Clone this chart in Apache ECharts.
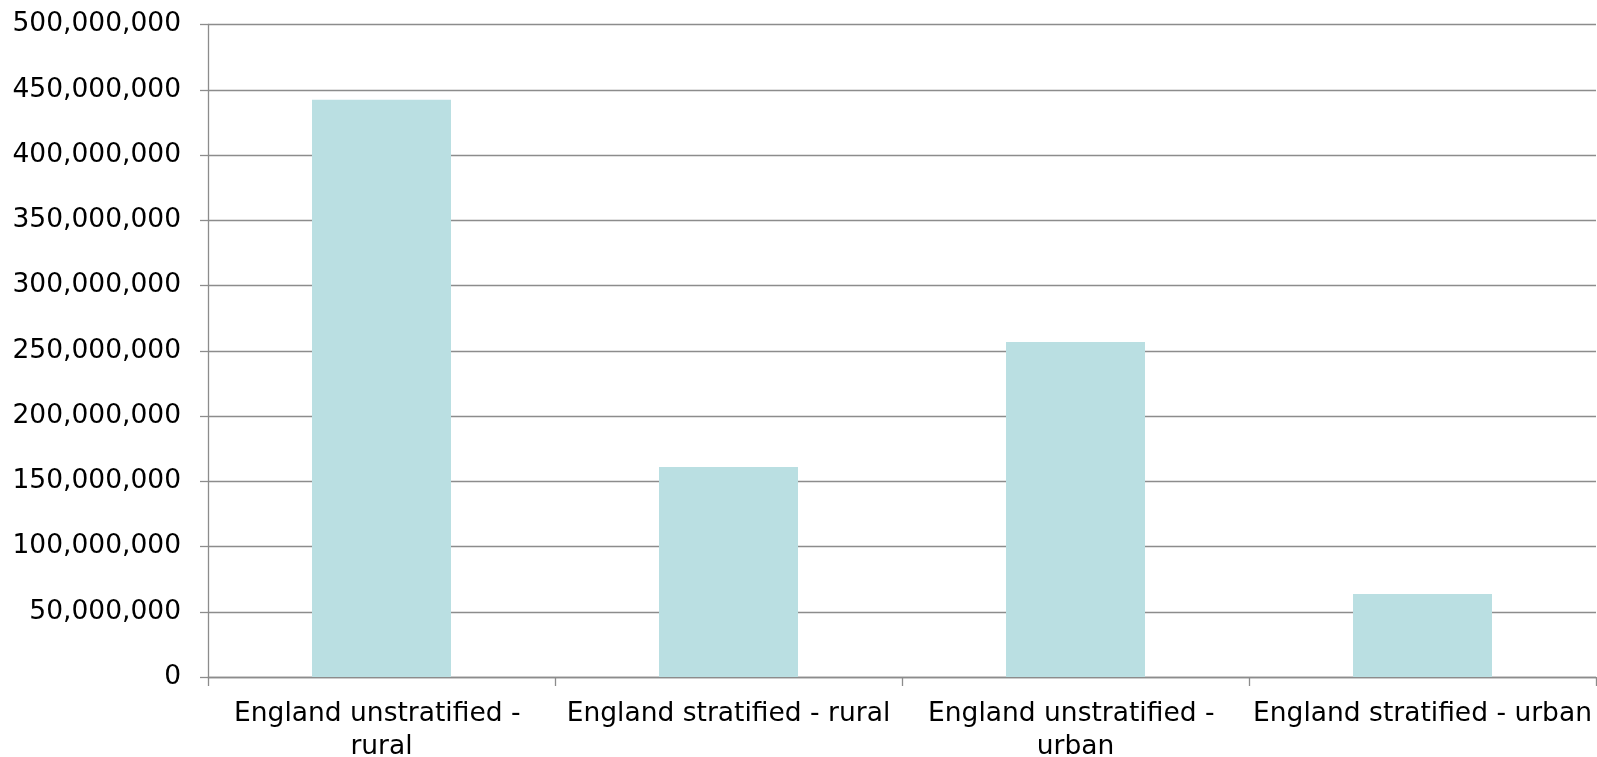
<!DOCTYPE html>
<html>
<head>
<meta charset="utf-8">
<script src="https://cdn.jsdelivr.net/npm/echarts@6/dist/echarts.min.js"></script>
<style>html,body{margin:0;padding:0;background:#fff;}#chart{width:1597px;height:757px;}</style>
</head>
<body>
<div id="chart"></div>
<script>
const categories = ['England unstratified - rural', 'England stratified - rural', 'England unstratified - urban', 'England stratified - urban'];
const values = [442300000, 161000000, 256800000, 63600000];
const yTicks = { min: 0, max: 500000000, interval: 50000000 };

const chart = echarts.init(document.getElementById('chart'), null, { renderer: 'canvas' });
const font = 'DejaVu Sans, Verdana, sans-serif';
chart.setOption({
  animation: false,
  backgroundColor: '#ffffff',
  grid: { left: 208, right: 1, top: 24.5, bottom: 80, containLabel: false, outerBoundsMode: 'none' },
  xAxis: {
    type: 'category',
    data: categories,
    axisLine: { lineStyle: { color: '#8c8c8c', width: 1.3 } },
    axisTick: { show: true, length: 9, alignWithLabel: false, lineStyle: { color: '#8c8c8c', width: 1.3 } },
    axisLabel: {
      interval: 0, color: '#000', fontFamily: font, fontSize: 26.5, margin: 21,
      lineHeight: 33, width: 346, overflow: 'break'
    },
    splitLine: { show: false }
  },
  yAxis: {
    type: 'value',
    min: yTicks.min, max: yTicks.max, interval: yTicks.interval,
    axisLine: { show: true, lineStyle: { color: '#8c8c8c', width: 1.3 } },
    axisTick: { show: true, length: 8, lineStyle: { color: '#8c8c8c', width: 1.3 } },
    axisLabel: {
      color: '#000', fontFamily: font, fontSize: 26.5, margin: 27, padding: [4, 0, 0, 0],
      formatter: v => v.toLocaleString('en-US')
    },
    splitLine: { show: true, lineStyle: { color: '#8c8c8c', width: 1.3 } }
  },
  series: [{
    type: 'bar',
    data: values,
    barWidth: 139,
    itemStyle: { color: '#badfe2' }
  }]
});
</script>
</body>
</html>
